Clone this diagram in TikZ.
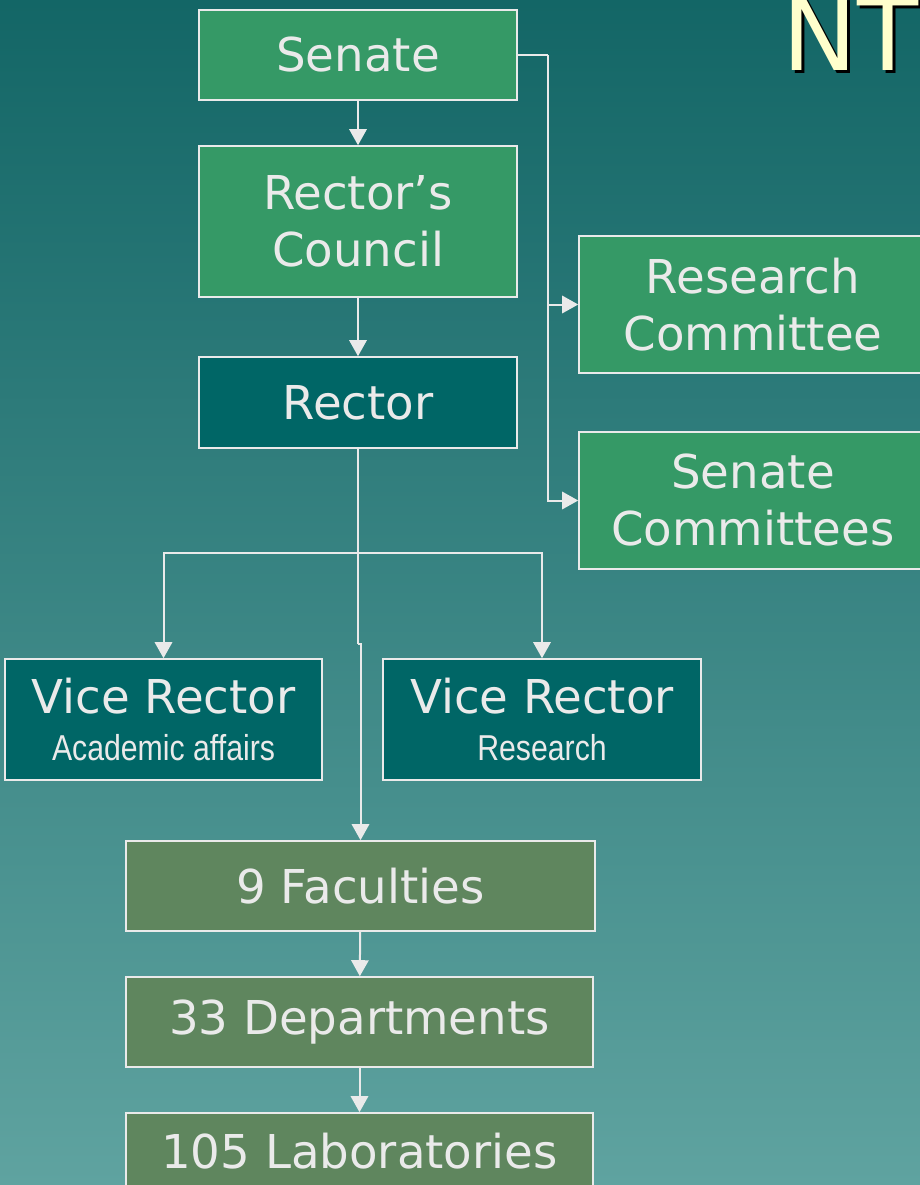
\documentclass[tikz,border=0pt]{standalone}
\usepackage{fontspec}
\setmainfont{DejaVu Sans}
\newfontfamily\narrowfont{Liberation Sans}[FakeStretch=0.84]
\usetikzlibrary{arrows.meta}

\definecolor{bgtop}{RGB}{19,102,102}
\definecolor{bgbottom}{RGB}{95,163,160}
\definecolor{boxgreen}{RGB}{53,153,102}
\definecolor{boxteal}{RGB}{0,102,102}
\definecolor{boxolive}{RGB}{95,134,94}
\definecolor{linegray}{RGB}{234,234,234}
\definecolor{titleyellow}{RGB}{255,255,204}

\tikzset{
  orgbox/.style={draw=linegray, line width=1.2pt, text=linegray, inner sep=0pt,
    align=center, font=\fontsize{35}{42.75}\selectfont},
  link/.style={draw=linegray, line width=1.5pt},
  arr/.style={link, -{Triangle[length=12pt,width=13pt]}},
}

\begin{document}
\begin{tikzpicture}[x=0.75pt,y=0.75pt,yscale=-1,xscale=1]
\useasboundingbox (0,0) rectangle (920,1185);
\clip (0,0) rectangle (920,1185);

%Background
\shade [top color=bgtop, bottom color=bgbottom] (0,0) rectangle (920,1185);

% Title, cut off at the right
\node [anchor=base west, inner sep=0pt, text=black, font=\fontsize{75}{80}\selectfont] at (785,73) {NT};
\node [anchor=base west, inner sep=0pt, text=titleyellow, font=\fontsize{75}{80}\selectfont] at (782,70) {NT};

% Top row
\node (senate) [orgbox, fill=boxgreen, minimum width=238.5pt, minimum height=67.5pt] at (358,55) {Senate};
\node (council) [orgbox, fill=boxgreen, minimum width=238.5pt, minimum height=113.25pt] at (358,221.5) {Rector's\\Council};
\node (rector) [orgbox, fill=boxteal, minimum width=238.5pt, minimum height=68.25pt] at (358,402.5) {Rector};

% Committees
\node (rescom) [orgbox, fill=boxgreen, minimum width=261pt, minimum height=102.75pt] at (753,304.5) {Research\\Committee};
\node (sencom) [orgbox, fill=boxgreen, minimum width=261pt, minimum height=102.75pt] at (753,500.5) {Senate\\Committees};

% Vice rectors
\node (vracad) [orgbox, fill=boxteal, minimum width=237.75pt, minimum height=90.75pt] at (163.5,719.5) {Vice Rector\\[-7.5pt]{\narrowfont\fontsize{27}{30}\selectfont Academic affairs}};
\node (vrres) [orgbox, fill=boxteal, minimum width=238.5pt, minimum height=90.75pt] at (542,719.5) {Vice Rector\\[-7.5pt]{\narrowfont\fontsize{27}{30}\selectfont Research}};

% Faculties and below
\node (fac) [orgbox, fill=boxolive, minimum width=351.75pt, minimum height=67.5pt] at (360.5,886) {9 Faculties};
\node (dept) [orgbox, fill=boxolive, minimum width=350.25pt, minimum height=67.5pt] at (359.5,1022) {33 Departments};
\node (labs) [orgbox, fill=boxolive, minimum width=350.25pt, minimum height=57pt] at (359.5,1151) {105 Laboratories};

% Connectors
\coordinate (bus) at (548,55);
\coordinate (fork) at (358,553);
\coordinate (jog) at (358,644);

\draw [arr] (senate) -- (council);
\draw [arr] (council) -- (rector);
\draw [link] (senate.east) -- (bus);
\draw [arr] (bus) |- (rescom.west);
\draw [arr] (bus) |- (sencom.west);
\draw [link] (rector.south) -- (jog);
\draw [arr] (jog) -| (fac.north);
\draw [arr] (fork) -| (vracad.north);
\draw [arr] (fork) -| (vrres.north);
\draw [arr] (fac) -- (dept);
\draw [arr] (dept) -- (labs);
\end{tikzpicture}
\end{document}
